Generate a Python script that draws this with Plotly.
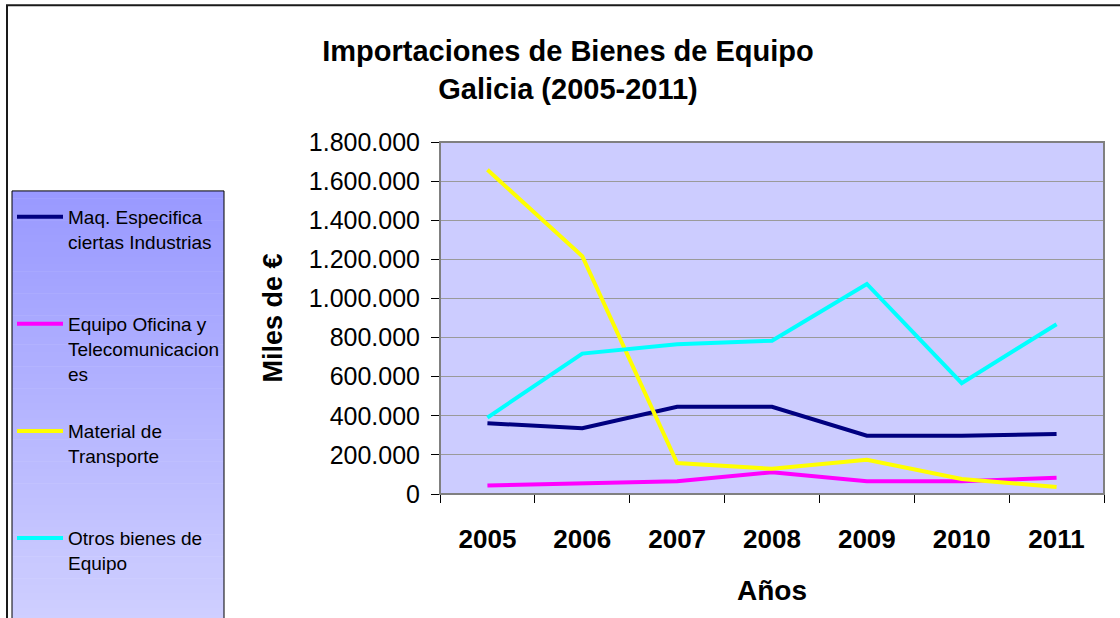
import plotly.graph_objects as go

# data (miles de euros)
years = ['2005', '2006', '2007', '2008', '2009', '2010', '2011']
maquinaria = [362000, 336000, 446000, 446000, 298000, 298000, 307000]
oficina_telecom = [44000, 54000, 65000, 111000, 65000, 65000, 83000]
transporte = [1658000, 1216000, 158000, 129000, 175000, 77000, 36000]
otros_bienes = [391000, 718000, 766000, 784000, 1074000, 567000, 868000]

series_names = [
    'Maq. Especifica<br>ciertas Industrias<br> ',
    'Equipo Oficina y<br>Telecomunicacion<br>es',
    'Material de<br>Transporte<br> ',
    'Otros bienes de<br>Equipo',
]
series_values = [maquinaria, oficina_telecom, transporte, otros_bienes]
series_colors = ['#000080', '#FF00FF', '#FFFF00', '#00FFFF']

W, H = 1120, 618
PL, PR, PT, PB = 440, 1104, 142, 494.5  # plot area in pixels


def px(x):
    return (x - PL) / (PR - PL)


def py(y):
    return (PB - y) / (PB - PT)


fig = go.Figure()

for i, (name, vals, col) in enumerate(zip(series_names, series_values, series_colors)):
    fig.add_trace(go.Scatter(
        x=years,
        y=vals,
        mode='lines',
        name=name,
        legendgroup=f'g{i}',
        line=dict(color=col, width=4),
        hovertemplate=f"{name.split('<br>')[0]}<br>%{{x}}: %{{y:,d}}<extra></extra>"
    ))

shapes = []
# legend box with a vertical gradient made of thin bands
top, bottom, nb = 191, 630, 60
c0, c1 = (0x99, 0x99, 0xFF), (0xD0, 0xD0, 0xFF)
for k in range(nb):
    t = k / (nb - 1)
    c = tuple(round(a + (b - a) * t) for a, b in zip(c0, c1))
    y0 = top + (bottom - top) * k / nb
    y1 = top + (bottom - top) * (k + 1) / nb
    shapes.append(dict(type='rect', xref='paper', yref='paper',
                       x0=px(12), x1=px(224), y0=py(y0), y1=py(y1 + 0.5),
                       line=dict(width=0), fillcolor='rgb(%d,%d,%d)' % c, layer='below'))
shapes.append(dict(type='rect', xref='paper', yref='paper',
                   x0=px(12), x1=px(224), y0=py(top), y1=py(bottom),
                   line=dict(color='black', width=1), fillcolor='rgba(0,0,0,0)', layer='below'))
# plot area frame (grey top/right)
shapes.append(dict(type='rect', xref='paper', yref='paper', x0=0, x1=1, y0=0, y1=1,
                   line=dict(color='#808080', width=2), layer='above'))
# outer chart border
shapes.append(dict(type='rect', xref='paper', yref='paper',
                   x0=px(7), x1=px(1130), y0=py(5), y1=py(640),
                   line=dict(color='#1a1a1a', width=2), fillcolor='rgba(0,0,0,0)', layer='below'))

fig.update_layout(
    width=W, height=H,
    margin=dict(l=PL, r=W - PR, t=PT, b=H - PB),
    paper_bgcolor='white',
    plot_bgcolor='#CCCCFF',
    separators=',.',
    font=dict(family='Liberation Sans, Arial, sans-serif', color='black'),
    title=dict(
        text='<b>Importaciones de Bienes de Equipo<br>Galicia (2005-2011)</b>',
        font=dict(size=29, color='black'),
        x=568 / W, xanchor='center', xref='container',
        y=1 - 61 / H, yanchor='top', yref='container'
    ),
    legend=dict(
        x=px(12), y=py(198), xanchor='left', yanchor='top',
        xref='paper', yref='paper',
        bgcolor='rgba(0,0,0,0)',
        font=dict(size=19, color='black'),
        traceorder='grouped',
        tracegroupgap=30,
        valign='top',
        itemwidth=46,
        maxheight=600,
    ),
    shapes=shapes,
    showlegend=True,
)

fig.update_xaxes(
    type='category',
    range=[-0.5, 6.5],
    tickson='boundaries',
    ticks='outside', ticklen=8, tickcolor='black',
    showline=True, linecolor='black', linewidth=1,
    showgrid=False,
    tickfont=dict(size=26, color='black', weight='bold'),
    ticklabelstandoff=22,
    title=dict(text='<b>Años</b>', font=dict(size=28, color='black'), standoff=27),
)
fig.update_yaxes(
    range=[0, 1800000],
    dtick=200000,
    tickformat=',d',
    ticks='outside', ticklen=8, tickcolor='black',
    showline=True, linecolor='black', linewidth=1,
    showgrid=True, gridcolor='#9a9a9a', gridwidth=1,
    zeroline=False,
    tickfont=dict(size=25, color='black'),
    ticklabelstandoff=6,
    title=dict(text='<b>Miles de €</b>', font=dict(size=27, color='black'), standoff=18),
)

# the page gets a default 8px body margin; drop it so the chart sits at the window origin
fig.write_html("out.html", config={'displayModeBar': False},
               post_script="document.body.style.margin='0';")
